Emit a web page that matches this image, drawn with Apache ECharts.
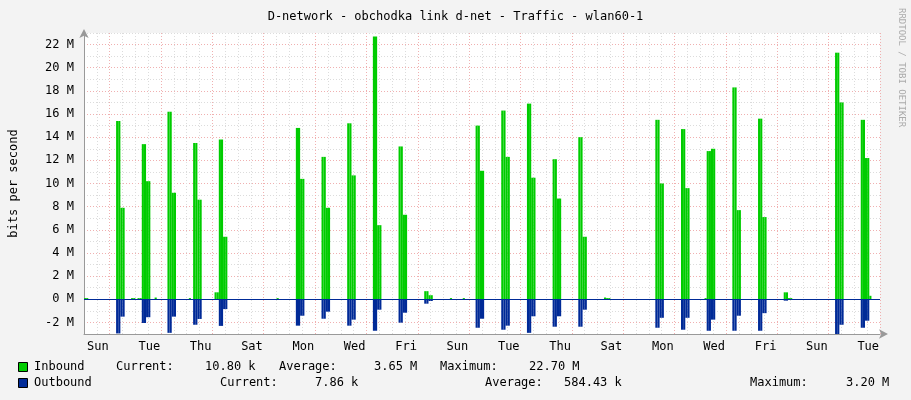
<!DOCTYPE html>
<html><head><meta charset="utf-8">
<script src="https://cdn.jsdelivr.net/npm/echarts@6/dist/echarts.min.js"></script>
<style>html,body{margin:0;padding:0;background:#f3f3f3}#c{width:911px;height:400px}</style>
</head><body><div id="c"></div>
<script>
const dayNames = ['Sun','Mon','Tue','Wed','Thu','Fri','Sat'];
const binsPerDay = 12;          // 2-hour samples
const totalDays = 31;
const spikeDays = [1,2,3,4,5, 8,9,10,11,12,13, 15,16,17,18,19, 22,23,24,25,26,27, 29,30];
const inHigh  = [15.4,13.4,16.2,13.5,13.8, 14.8,12.3,15.2,22.7,13.2,0.7, 15.0,16.3,16.9,12.1,14.0, 15.5,14.7,12.8,18.3,15.6,0.6, 21.3,15.5];
const inLow   = [7.9,10.2,9.2,8.6,5.4, 10.4,7.9,10.7,6.4,7.3,0.35, 11.1,12.3,10.5,8.7,5.4, 10.0,9.6,13.0,7.7,7.1,0.1, 17.0,12.2];
const outHigh = [2.95,2.05,2.9,2.2,2.3, 2.28,1.68,2.28,2.72,2.02,0.38, 2.46,2.63,2.9,2.37,2.37, 2.46,2.63,2.72,2.72,2.72,0.12, 3.2,2.46];
const outLow  = [1.5,1.55,1.5,1.7,0.85, 1.42,1.07,1.76,0.9,1.16,0.15, 1.68,2.28,1.47,1.47,0.9, 1.6,1.6,1.76,1.42,1.2,0, 2.2,1.85];
const smallIn = [[0,0.1],[1,0.1],[22,0.1],[23,0.1],[25,0.1],[26,0.1],[33,0.15],[49,0.1],[61,0.6],[62,0.6],[90,0.1],[111,0.1],[112,0.1],[123,0.1],[135,0.15],[147,0.1],[171,0.1],[177,0.1],[219,0.1],[220,0.1],[243,0.15],[244,0.1],[245,0.1],[290,0.1],[291,0.1],[304,0.1],[316,0.2],[317,0.2],[351,0.15],[367,0.3]];

const N = totalDays*binsPerDay;
const cats = [], inb = new Array(N).fill(0), outb = new Array(N).fill(0);
for (let i=0;i<N;i++){ const h=i*2; cats.push(dayNames[Math.floor(h/24)%7]+' '+(h%24)+':00'); }
spikeDays.forEach((d,k)=>{
  const b=d*binsPerDay+3;
  inb[b]=inHigh[k]*1e6; inb[b+1]=inHigh[k]*1e6; inb[b+2]=inLow[k]*1e6; inb[b+3]=inLow[k]*1e6;
  outb[b]=-outHigh[k]*1e6; outb[b+1]=-outHigh[k]*1e6; outb[b+2]=-outLow[k]*1e6; outb[b+3]=-outLow[k]*1e6;
});
smallIn.forEach(([b,v])=>{ if(!inb[b]) inb[b]=v*1e6; });

const mono='DejaVu Sans Mono';
const G='#dcdcdc', R='#f0b0b0';
const chart=echarts.init(document.getElementById('c'));
const txt=(x,y,t,o)=>Object.assign({type:'text',left:x,top:y,style:{text:t,font:'12px "'+mono+'"',fill:'#000'}},o||{});
chart.setOption({
  animation:false,
  backgroundColor:'#f3f3f3',
  title:{text:'D-network - obchodka link d-net - Traffic - wlan60-1',left:'center',top:6,
    textStyle:{fontFamily:mono,fontSize:12,fontWeight:'normal',color:'#000'}},
  grid:{left:82,right:31,top:33,bottom:66,backgroundColor:'#fff',show:true,borderWidth:0},
  xAxis:[{type:'category',data:cats,boundaryGap:true,
    axisLine:{onZero:false,lineStyle:{color:'#999'},symbol:['none','arrow'],symbolSize:[7,9],symbolOffset:[0,8]},
    axisTick:{show:false},
    axisLabel:{interval:(i)=>i%24===6,formatter:(v)=>v.split(' ')[0],fontFamily:mono,fontSize:12,color:'#000',margin:7},
    splitLine:{show:true,interval:5,lineStyle:{type:[1,2],color:[G,G,R,G]}}}],
  yAxis:{type:'value',min:-3e6,max:23e6,interval:1e6,
    axisLine:{show:true,lineStyle:{color:'#999'},symbol:['none','arrow'],symbolSize:[7,9],symbolOffset:[0,4]},
    axisTick:{show:false},
    axisLabel:{fontFamily:mono,fontSize:12,color:'#000',margin:10,
      formatter:(v)=>(Math.round(v/1e6)%2===0 ? Math.round(v/1e6)+' M':'')},
    splitLine:{lineStyle:{type:[1,2],color:[G,R]}},
    name:'bits per second',nameLocation:'middle',nameGap:64,nameRotate:90,
    nameTextStyle:{fontFamily:mono,fontSize:12,color:'#000'}},
  series:[
    {type:'bar',name:'Inbound',data:inb,stack:'t',barCategoryGap:0,itemStyle:{color:'#00cc00'},silent:true},
    {type:'bar',name:'Outbound',data:outb,stack:'t',barCategoryGap:0,itemStyle:{color:'#002a97'},silent:true,
     markLine:{silent:true,symbol:'none',label:{show:false},lineStyle:{color:'#002a97',width:1,type:'solid'},data:[{yAxis:0}]}}
  ],
  graphic:[
    {type:'rect',left:18,top:362,shape:{width:9,height:9},style:{fill:'#00cc00',stroke:'#000',lineWidth:1}},
    {type:'rect',left:18,top:378,shape:{width:9,height:9},style:{fill:'#002a97',stroke:'#000',lineWidth:1}},
    txt(34,361,'Inbound'),txt(116,361,'Current:'),txt(205,361,'10.80 k'),txt(279,361,'Average:'),
    txt(374,361,'3.65 M'),txt(440,361,'Maximum:'),txt(529,361,'22.70 M'),
    txt(34,377,'Outbound'),txt(220,377,'Current:'),txt(315,377,'7.86 k'),txt(485,377,'Average:'),
    txt(564,377,'584.43 k'),txt(750,377,'Maximum:'),txt(846,377,'3.20 M'),
    {type:'text',left:897,top:8,rotation:-Math.PI/2,originX:0,originY:0,
     style:{text:'RRDTOOL / TOBI OETIKER',font:'9px "'+mono+'"',fill:'#aaa'}}
  ]
});
</script></body></html>
